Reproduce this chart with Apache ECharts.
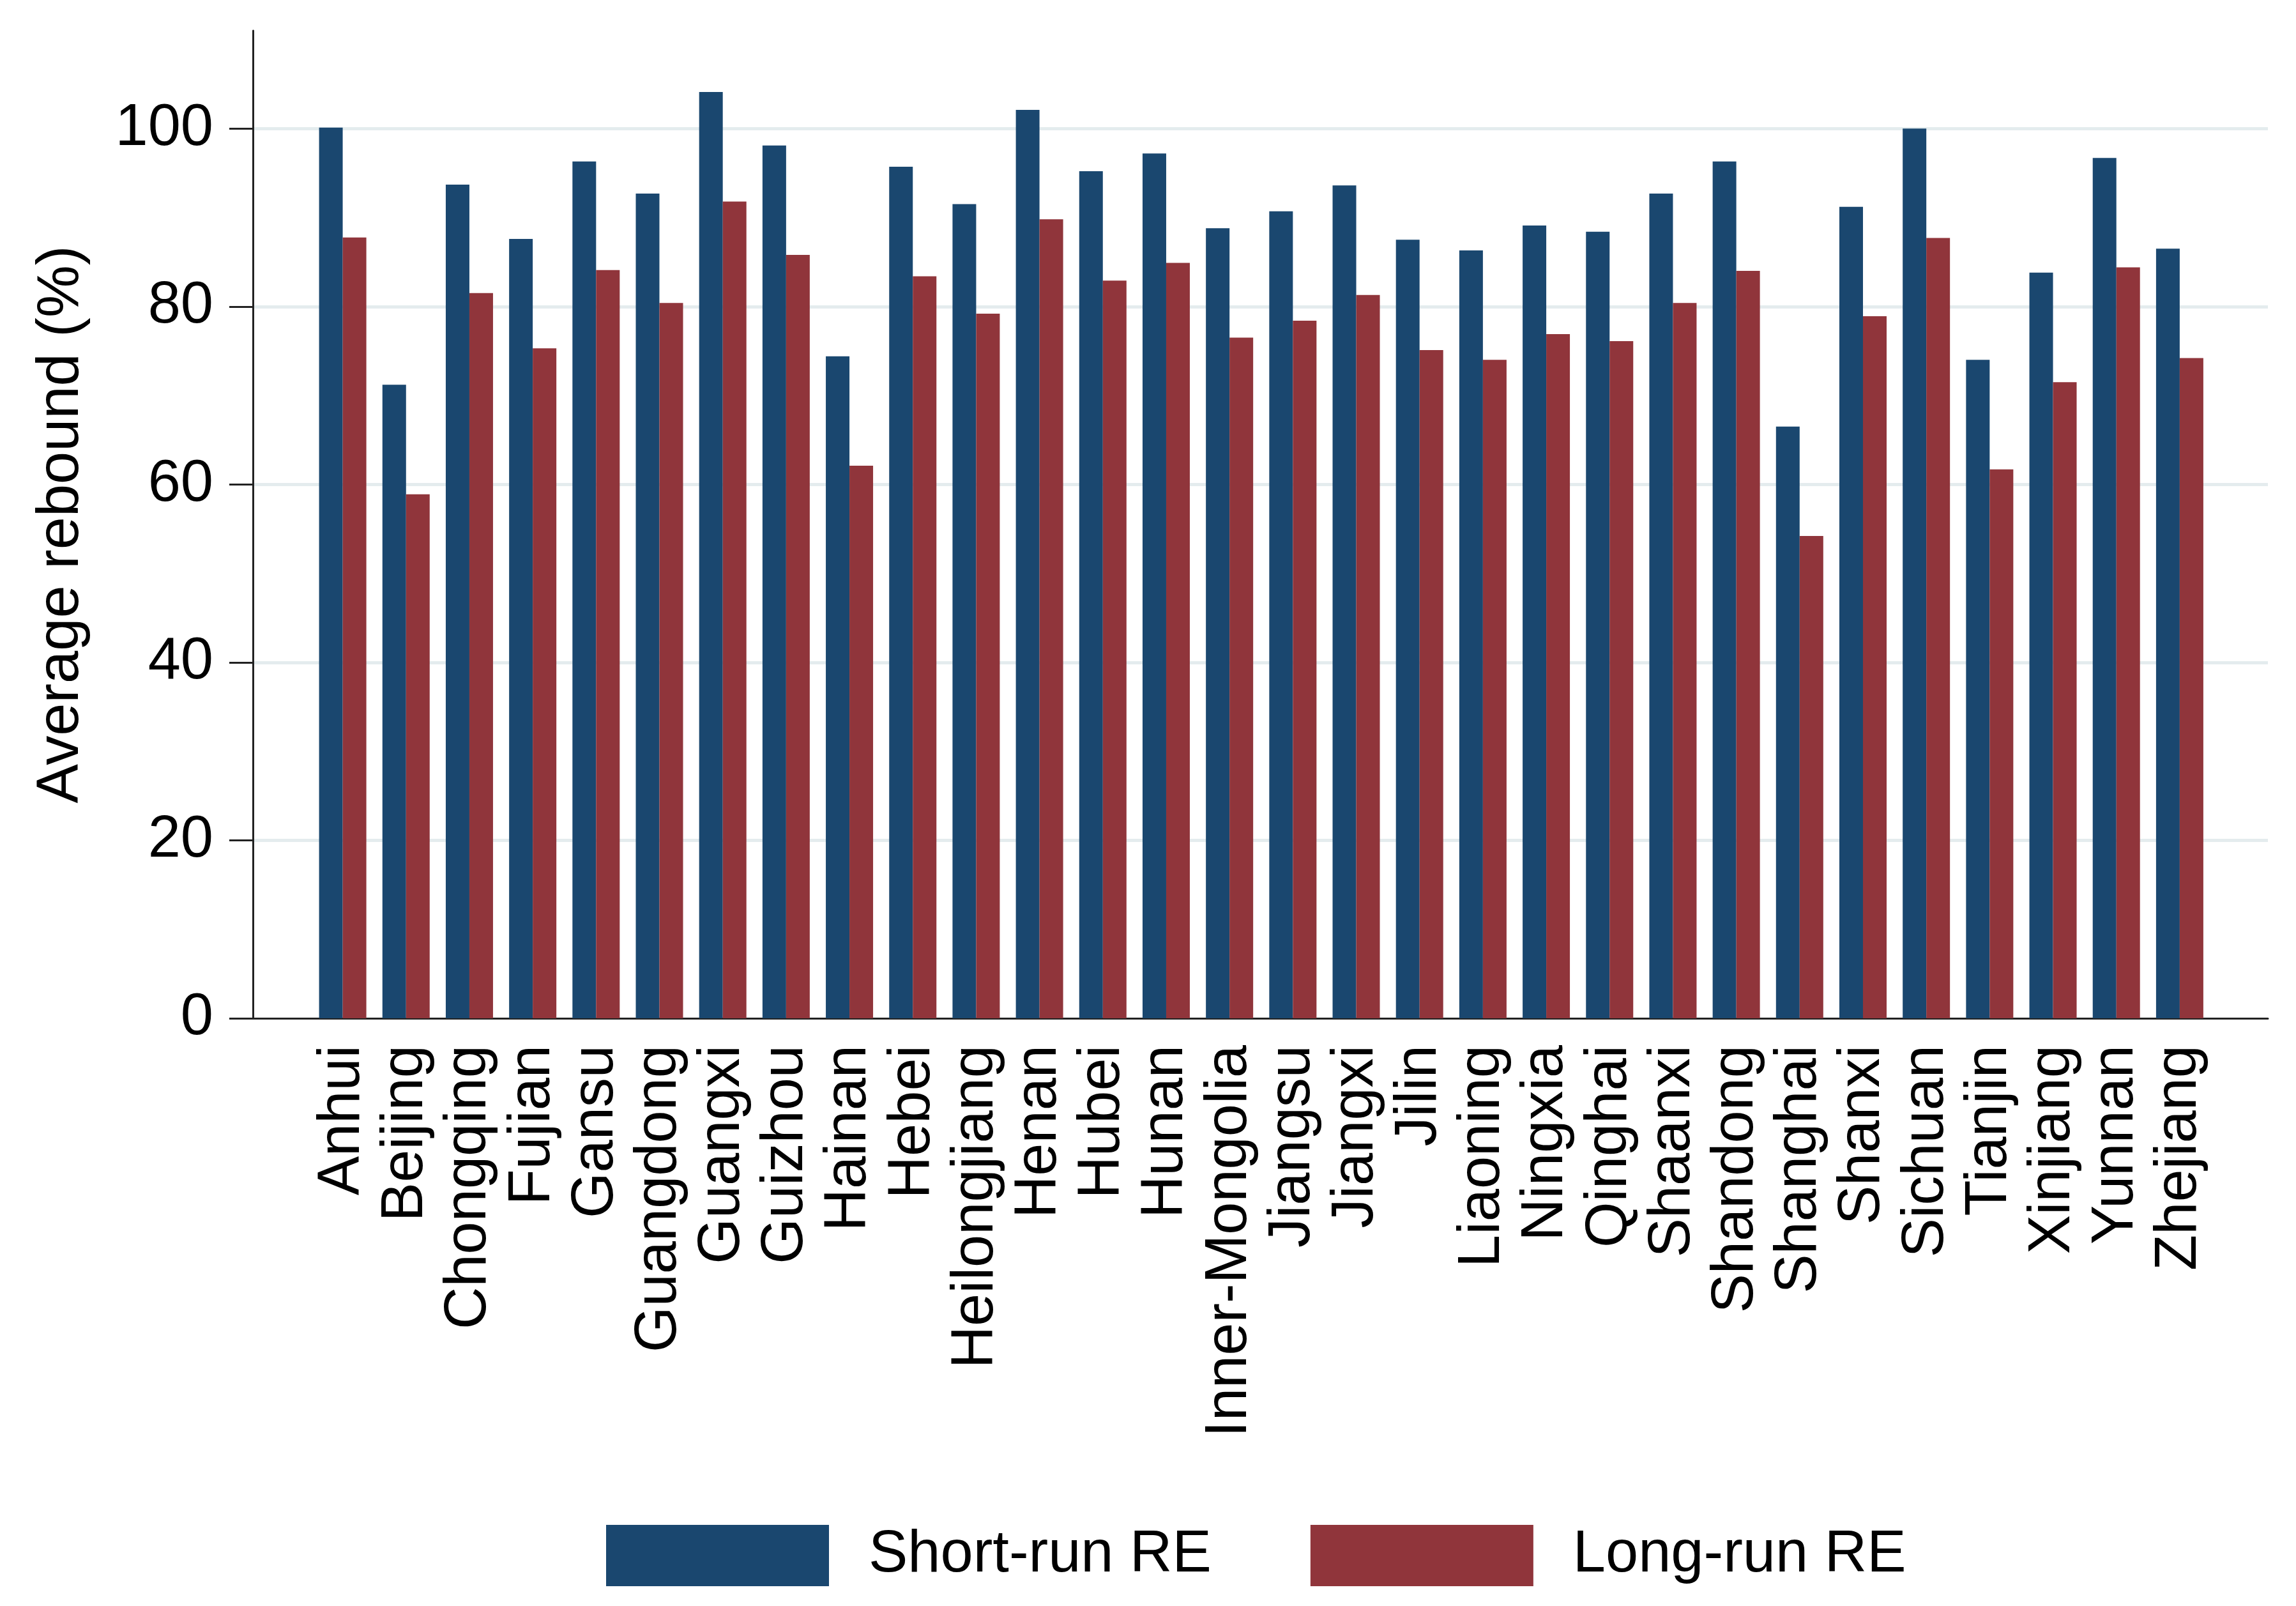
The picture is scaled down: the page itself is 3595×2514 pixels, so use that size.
<!DOCTYPE html>
<html>
<head>
<meta charset="utf-8">
<script src="https://cdn.jsdelivr.net/npm/echarts@6/dist/echarts.min.js"></script>
<style>
html,body{margin:0;padding:0;background:#fff;}
#chart{width:3595px;height:2514px;}
</style>
</head>
<body>
<div id="chart"></div>
<script>
const categories = ["Anhui","Beijing","Chongqing","Fujian","Gansu","Guangdong","Guangxi","Guizhou","Hainan","Hebei","Heilongjiang","Henan","Hubei","Hunan","Inner-Mongolia","Jiangsu","Jiangxi","Jilin","Liaoning","Ningxia","Qinghai","Shaanxi","Shandong","Shanghai","Shanxi","Sichuan","Tianjin","Xinjiang","Yunnan","Zhejiang"];
const shortRun = [100.1,71.2,93.7,87.6,96.3,92.7,104.1,98.1,74.4,95.7,91.5,102.1,95.2,97.2,88.8,90.7,93.6,87.5,86.3,89.1,88.4,92.7,96.3,66.5,91.2,100.0,74.0,83.8,96.7,86.5];
const longRun = [87.75,58.9,81.5,75.3,84.1,80.4,91.8,85.8,62.1,83.4,79.2,89.8,82.9,84.9,76.5,78.4,81.3,75.1,74.0,76.9,76.1,80.4,84.0,54.2,78.9,87.7,61.7,71.5,84.4,74.2];
const yTicks = [0,20,40,60,80,100];
const seriesNames = ["Short-run RE","Long-run RE"];

const FONT = "'Liberation Sans', Arial, sans-serif";
const gridColor = '#e4ecee';
const chart = echarts.init(document.getElementById('chart'), null, {renderer:'canvas'});
chart.setOption({
  backgroundColor:'#ffffff',
  animation:false,
  textStyle:{fontFamily:FONT},
  grid:[
    {left:396, right:44, top:48, bottom:920, containLabel:false},
    {left:487, right:132.5, top:48, bottom:920, containLabel:false}
  ],
  legend:{
    left:944, top:2382,
    itemWidth:349, itemHeight:96, itemGap:155,
    icon:'rect',
    data:seriesNames,
    textStyle:{fontSize:92, color:'#000', fontFamily:FONT, padding:[0,0,0,57]}
  },
  xAxis:[
    {gridIndex:0, type:'value', min:0, max:1, position:'bottom',
     axisLine:{show:true, lineStyle:{color:'#222', width:3}},
     axisTick:{show:false}, axisLabel:{show:false}, splitLine:{show:false}},
    {gridIndex:1, type:'category', data:categories, position:'bottom',
     axisLine:{show:false}, axisTick:{show:false}, splitLine:{show:false},
     axisLabel:{interval:0, rotate:90, fontSize:92, color:'#000', margin:42, fontFamily:FONT}}
  ],
  yAxis:[
    {gridIndex:0, type:'value', min:0, max:111, interval:20,
     name:'Average rebound (%)', nameLocation:'middle', nameGap:253,
     nameTextStyle:{fontSize:92, color:'#000', fontFamily:FONT},
     axisLine:{show:true, lineStyle:{color:'#222', width:3}},
     axisTick:{show:true, length:37, lineStyle:{color:'#222', width:3}, customValues:yTicks},
     axisLabel:{fontSize:92, color:'#000', margin:62, fontFamily:FONT, customValues:yTicks},
     splitLine:{show:true, lineStyle:{color:['rgba(0,0,0,0)',gridColor,gridColor,gridColor,gridColor,gridColor,'rgba(0,0,0,0)'], width:5}}},
    {gridIndex:1, type:'value', min:0, max:111, show:false, splitLine:{show:false}}
  ],
  series:[
    {name:seriesNames[0], type:'bar', xAxisIndex:1, yAxisIndex:1, data:shortRun,
     barWidth:37, barGap:'0%', itemStyle:{color:'#1a476f'}},
    {name:seriesNames[1], type:'bar', xAxisIndex:1, yAxisIndex:1, data:longRun,
     barWidth:37, barGap:'0%', itemStyle:{color:'#90353b'}}
  ]
});
</script>
</body>
</html>
